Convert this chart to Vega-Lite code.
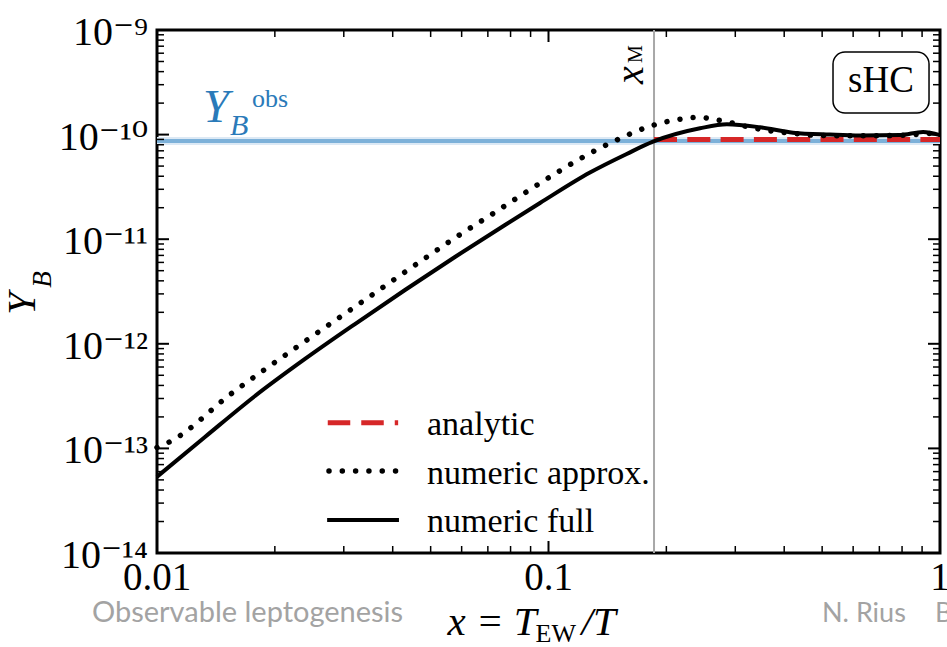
{
  "$schema": "https://vega.github.io/schema/vega-lite/v6.json",
  "width": 783,
  "height": 523,
  "autosize": {"type": "none"},
  "padding": {"left": 157, "top": 30, "right": 7, "bottom": 94},
  "background": "white",
  "config": {
    "view": {"stroke": "black", "strokeWidth": 3},
    "text": {"font": "Liberation Serif", "color": "black"}
  },
  "datasets": {
    "full": [
      {"series": "numeric full", "x": 0.01, "y": 5.36e-14},
      {"series": "numeric full", "x": 0.01326, "y": 1.285e-13},
      {"series": "numeric full", "x": 0.0178, "y": 3.17e-13},
      {"series": "numeric full", "x": 0.02388, "y": 7.16e-13},
      {"series": "numeric full", "x": 0.03204, "y": 1.545e-12},
      {"series": "numeric full", "x": 0.043, "y": 3.27e-12},
      {"series": "numeric full", "x": 0.05768, "y": 6.76e-12},
      {"series": "numeric full", "x": 0.07743, "y": 1.367e-11},
      {"series": "numeric full", "x": 0.09512, "y": 2.219e-11},
      {"series": "numeric full", "x": 0.1276, "y": 4.34e-11},
      {"series": "numeric full", "x": 0.1584, "y": 6.53e-11},
      {"series": "numeric full", "x": 0.1849, "y": 8.55e-11},
      {"series": "numeric full", "x": 0.2438, "y": 1.148e-10},
      {"series": "numeric full", "x": 0.2857, "y": 1.254e-10},
      {"series": "numeric full", "x": 0.3469, "y": 1.175e-10},
      {"series": "numeric full", "x": 0.4212, "y": 1.043e-10},
      {"series": "numeric full", "x": 0.5236, "y": 1.0e-10},
      {"series": "numeric full", "x": 0.6247, "y": 9.8e-11},
      {"series": "numeric full", "x": 0.7903, "y": 9.9e-11},
      {"series": "numeric full", "x": 0.9051, "y": 1.06e-10},
      {"series": "numeric full", "x": 1.0, "y": 9.9e-11}
    ],
    "approx": [
      {"series": "numeric approx.", "x": 0.01, "y": 1.02e-13},
      {"series": "numeric approx.", "x": 0.01079, "y": 1.159e-13},
      {"series": "numeric approx.", "x": 0.01552, "y": 3.363e-13},
      {"series": "numeric approx.", "x": 0.02252, "y": 9.06e-13},
      {"series": "numeric approx.", "x": 0.033, "y": 2.44e-12},
      {"series": "numeric approx.", "x": 0.04836, "y": 6.57e-12},
      {"series": "numeric approx.", "x": 0.0583, "y": 1.057e-11},
      {"series": "numeric approx.", "x": 0.07089, "y": 1.685e-11},
      {"series": "numeric approx.", "x": 0.08607, "y": 2.7e-11},
      {"series": "numeric approx.", "x": 0.1049, "y": 4.32e-11},
      {"series": "numeric approx.", "x": 0.1276, "y": 6.63e-11},
      {"series": "numeric approx.", "x": 0.1462, "y": 8.55e-11},
      {"series": "numeric approx.", "x": 0.1824, "y": 1.208e-10},
      {"series": "numeric approx.", "x": 0.2105, "y": 1.379e-10},
      {"series": "numeric approx.", "x": 0.2438, "y": 1.463e-10},
      {"series": "numeric approx.", "x": 0.2632, "y": 1.4e-10},
      {"series": "numeric approx.", "x": 0.2852, "y": 1.328e-10},
      {"series": "numeric approx.", "x": 0.3084, "y": 1.235e-10},
      {"series": "numeric approx.", "x": 0.3369, "y": 1.148e-10},
      {"series": "numeric approx.", "x": 0.3829, "y": 1.066e-10},
      {"series": "numeric approx.", "x": 0.4212, "y": 1.029e-10},
      {"series": "numeric approx.", "x": 0.4655, "y": 9.91e-11},
      {"series": "numeric approx.", "x": 0.5651, "y": 9.76e-11},
      {"series": "numeric approx.", "x": 0.6893, "y": 9.76e-11},
      {"series": "numeric approx.", "x": 0.8384, "y": 9.91e-11},
      {"series": "numeric approx.", "x": 0.9247, "y": 1.029e-10},
      {"series": "numeric approx.", "x": 1.0, "y": 9.91e-11}
    ],
    "analytic": [
      {"series": "analytic", "x": 0.186, "y": 9.0e-11},
      {"series": "analytic", "x": 1.0, "y": 9.0e-11}
    ],
    "obs": [{"value": 8.69e-11, "lo": 7.96e-11, "hi": 9.49e-11}],
    "xm": [{"xM": 0.186}],
    "xlabels": [
      {"v": 0.01, "label": "0.01"},
      {"v": 0.1, "label": "0.1"},
      {"v": 1, "label": "1"}
    ],
    "ylabels": [
      {"v": 1e-9, "label": "10⁻⁹"},
      {"v": 1e-10, "label": "10⁻¹⁰"},
      {"v": 1e-11, "label": "10⁻¹¹"},
      {"v": 1e-12, "label": "10⁻¹²"},
      {"v": 1e-13, "label": "10⁻¹³"},
      {"v": 1e-14, "label": "10⁻¹⁴"}
    ]
  },
  "layer": [
    {
      "data": {"name": "obs"},
      "mark": {"type": "rect", "color": "#dce9f5"},
      "encoding": {
        "x": {"datum": 0.01, "type": "quantitative", "scale": {"type": "log", "domain": [0.01, 1], "nice": false}, "axis": null},
        "x2": {"datum": 1},
        "y": {"field": "lo", "type": "quantitative", "scale": {"type": "log", "domain": [1e-14, 1e-9], "nice": false}, "axis": null},
        "y2": {"field": "hi"}
      }
    },
    {
      "data": {"name": "obs"},
      "mark": {"type": "rule", "color": "#7db1d9", "strokeWidth": 4},
      "encoding": {
        "y": {"field": "value", "type": "quantitative", "scale": {"type": "log", "domain": [1e-14, 1e-9], "nice": false}, "axis": null}
      }
    },
    {
      "data": {"name": "xm"},
      "mark": {"type": "rule", "color": "#a8a8a8", "strokeWidth": 2},
      "encoding": {
        "x": {"field": "xM", "type": "quantitative", "scale": {"type": "log", "domain": [0.01, 1], "nice": false}, "axis": null}
      }
    },
    {
      "data": {"values": [
        {"tick": 1e-13, "kind": "major", "side": "right"}, {"tick": 1e-12, "kind": "major", "side": "right"},
        {"tick": 1e-11, "kind": "major", "side": "right"}, {"tick": 1e-10, "kind": "major", "side": "right"}
      ]},
      "mark": {"type": "rule", "color": "black", "strokeWidth": 2},
      "encoding": {
        "x": {"datum": 0.9319, "type": "quantitative", "scale": {"type": "log", "domain": [0.01, 1], "nice": false}, "axis": null},
        "x2": {"datum": 1},
        "y": {"field": "tick", "type": "quantitative", "scale": {"type": "log", "domain": [1e-14, 1e-9], "nice": false}, "axis": null}
      }
    },
    {
      "data": {"values": [
        {"tick": 1e-13, "kind": "major", "side": "left"}, {"tick": 1e-12, "kind": "major", "side": "left"},
        {"tick": 1e-11, "kind": "major", "side": "left"}, {"tick": 1e-10, "kind": "major", "side": "left"}
      ]},
      "mark": {"type": "rule", "color": "black", "strokeWidth": 2},
      "encoding": {
        "x": {"datum": 0.01, "type": "quantitative", "scale": {"type": "log", "domain": [0.01, 1], "nice": false}, "axis": null},
        "x2": {"datum": 0.01073},
        "y": {"field": "tick", "type": "quantitative", "scale": {"type": "log", "domain": [1e-14, 1e-9], "nice": false}, "axis": null}
      }
    },
    {
      "data": {"values": [
        {"tick": 2e-14, "kind": "minor", "side": "right"}, {"tick": 3e-14, "kind": "minor", "side": "right"}, {"tick": 4e-14, "kind": "minor", "side": "right"}, {"tick": 5e-14, "kind": "minor", "side": "right"},
        {"tick": 6e-14, "kind": "minor", "side": "right"}, {"tick": 7e-14, "kind": "minor", "side": "right"}, {"tick": 8e-14, "kind": "minor", "side": "right"}, {"tick": 9e-14, "kind": "minor", "side": "right"},
        {"tick": 2e-13, "kind": "minor", "side": "right"}, {"tick": 3e-13, "kind": "minor", "side": "right"}, {"tick": 4e-13, "kind": "minor", "side": "right"}, {"tick": 5e-13, "kind": "minor", "side": "right"},
        {"tick": 6e-13, "kind": "minor", "side": "right"}, {"tick": 7e-13, "kind": "minor", "side": "right"}, {"tick": 8e-13, "kind": "minor", "side": "right"}, {"tick": 9e-13, "kind": "minor", "side": "right"},
        {"tick": 2e-12, "kind": "minor", "side": "right"}, {"tick": 3e-12, "kind": "minor", "side": "right"}, {"tick": 4e-12, "kind": "minor", "side": "right"}, {"tick": 5e-12, "kind": "minor", "side": "right"},
        {"tick": 6e-12, "kind": "minor", "side": "right"}, {"tick": 7e-12, "kind": "minor", "side": "right"}, {"tick": 8e-12, "kind": "minor", "side": "right"}, {"tick": 9e-12, "kind": "minor", "side": "right"},
        {"tick": 2e-11, "kind": "minor", "side": "right"}, {"tick": 3e-11, "kind": "minor", "side": "right"}, {"tick": 4e-11, "kind": "minor", "side": "right"}, {"tick": 5e-11, "kind": "minor", "side": "right"},
        {"tick": 6e-11, "kind": "minor", "side": "right"}, {"tick": 7e-11, "kind": "minor", "side": "right"}, {"tick": 8e-11, "kind": "minor", "side": "right"}, {"tick": 9e-11, "kind": "minor", "side": "right"},
        {"tick": 2e-10, "kind": "minor", "side": "right"}, {"tick": 3e-10, "kind": "minor", "side": "right"}, {"tick": 4e-10, "kind": "minor", "side": "right"}, {"tick": 5e-10, "kind": "minor", "side": "right"},
        {"tick": 6e-10, "kind": "minor", "side": "right"}, {"tick": 7e-10, "kind": "minor", "side": "right"}, {"tick": 8e-10, "kind": "minor", "side": "right"}, {"tick": 9e-10, "kind": "minor", "side": "right"}
      ]},
      "mark": {"type": "rule", "color": "black", "strokeWidth": 1.5},
      "encoding": {
        "x": {"datum": 0.9597, "type": "quantitative", "scale": {"type": "log", "domain": [0.01, 1], "nice": false}, "axis": null},
        "x2": {"datum": 1},
        "y": {"field": "tick", "type": "quantitative", "scale": {"type": "log", "domain": [1e-14, 1e-9], "nice": false}, "axis": null}
      }
    },
    {
      "data": {"values": [
        {"tick": 2e-14, "kind": "minor", "side": "left"}, {"tick": 3e-14, "kind": "minor", "side": "left"}, {"tick": 4e-14, "kind": "minor", "side": "left"}, {"tick": 5e-14, "kind": "minor", "side": "left"},
        {"tick": 6e-14, "kind": "minor", "side": "left"}, {"tick": 7e-14, "kind": "minor", "side": "left"}, {"tick": 8e-14, "kind": "minor", "side": "left"}, {"tick": 9e-14, "kind": "minor", "side": "left"},
        {"tick": 2e-13, "kind": "minor", "side": "left"}, {"tick": 3e-13, "kind": "minor", "side": "left"}, {"tick": 4e-13, "kind": "minor", "side": "left"}, {"tick": 5e-13, "kind": "minor", "side": "left"},
        {"tick": 6e-13, "kind": "minor", "side": "left"}, {"tick": 7e-13, "kind": "minor", "side": "left"}, {"tick": 8e-13, "kind": "minor", "side": "left"}, {"tick": 9e-13, "kind": "minor", "side": "left"},
        {"tick": 2e-12, "kind": "minor", "side": "left"}, {"tick": 3e-12, "kind": "minor", "side": "left"}, {"tick": 4e-12, "kind": "minor", "side": "left"}, {"tick": 5e-12, "kind": "minor", "side": "left"},
        {"tick": 6e-12, "kind": "minor", "side": "left"}, {"tick": 7e-12, "kind": "minor", "side": "left"}, {"tick": 8e-12, "kind": "minor", "side": "left"}, {"tick": 9e-12, "kind": "minor", "side": "left"},
        {"tick": 2e-11, "kind": "minor", "side": "left"}, {"tick": 3e-11, "kind": "minor", "side": "left"}, {"tick": 4e-11, "kind": "minor", "side": "left"}, {"tick": 5e-11, "kind": "minor", "side": "left"},
        {"tick": 6e-11, "kind": "minor", "side": "left"}, {"tick": 7e-11, "kind": "minor", "side": "left"}, {"tick": 8e-11, "kind": "minor", "side": "left"}, {"tick": 9e-11, "kind": "minor", "side": "left"},
        {"tick": 2e-10, "kind": "minor", "side": "left"}, {"tick": 3e-10, "kind": "minor", "side": "left"}, {"tick": 4e-10, "kind": "minor", "side": "left"}, {"tick": 5e-10, "kind": "minor", "side": "left"},
        {"tick": 6e-10, "kind": "minor", "side": "left"}, {"tick": 7e-10, "kind": "minor", "side": "left"}, {"tick": 8e-10, "kind": "minor", "side": "left"}, {"tick": 9e-10, "kind": "minor", "side": "left"}
      ]},
      "mark": {"type": "rule", "color": "black", "strokeWidth": 1.5},
      "encoding": {
        "x": {"datum": 0.01, "type": "quantitative", "scale": {"type": "log", "domain": [0.01, 1], "nice": false}, "axis": null},
        "x2": {"datum": 0.01042},
        "y": {"field": "tick", "type": "quantitative", "scale": {"type": "log", "domain": [1e-14, 1e-9], "nice": false}, "axis": null}
      }
    },
    {
      "data": {"values": [{"tick": 0.1, "kind": "major", "side": "bottom"}]},
      "mark": {"type": "rule", "color": "black", "strokeWidth": 2},
      "encoding": {
        "x": {"field": "tick", "type": "quantitative", "scale": {"type": "log", "domain": [0.01, 1], "nice": false}, "axis": null},
        "y": {"datum": 1e-14, "type": "quantitative", "scale": {"type": "log", "domain": [1e-14, 1e-9], "nice": false}, "axis": null},
        "y2": {"datum": 1.302e-14}
      }
    },
    {
      "data": {"values": [{"tick": 0.1, "kind": "major", "side": "top"}]},
      "mark": {"type": "rule", "color": "black", "strokeWidth": 2},
      "encoding": {
        "x": {"field": "tick", "type": "quantitative", "scale": {"type": "log", "domain": [0.01, 1], "nice": false}, "axis": null},
        "y": {"datum": 7.678e-10, "type": "quantitative", "scale": {"type": "log", "domain": [1e-14, 1e-9], "nice": false}, "axis": null},
        "y2": {"datum": 1e-9}
      }
    },
    {
      "data": {"values": [
        {"tick": 0.02, "kind": "minor", "side": "bottom"}, {"tick": 0.03, "kind": "minor", "side": "bottom"}, {"tick": 0.04, "kind": "minor", "side": "bottom"}, {"tick": 0.05, "kind": "minor", "side": "bottom"},
        {"tick": 0.06, "kind": "minor", "side": "bottom"}, {"tick": 0.07, "kind": "minor", "side": "bottom"}, {"tick": 0.08, "kind": "minor", "side": "bottom"}, {"tick": 0.09, "kind": "minor", "side": "bottom"},
        {"tick": 0.2, "kind": "minor", "side": "bottom"}, {"tick": 0.3, "kind": "minor", "side": "bottom"}, {"tick": 0.4, "kind": "minor", "side": "bottom"}, {"tick": 0.5, "kind": "minor", "side": "bottom"},
        {"tick": 0.6, "kind": "minor", "side": "bottom"}, {"tick": 0.7, "kind": "minor", "side": "bottom"}, {"tick": 0.8, "kind": "minor", "side": "bottom"}, {"tick": 0.9, "kind": "minor", "side": "bottom"}
      ]},
      "mark": {"type": "rule", "color": "black", "strokeWidth": 1.5},
      "encoding": {
        "x": {"field": "tick", "type": "quantitative", "scale": {"type": "log", "domain": [0.01, 1], "nice": false}, "axis": null},
        "y": {"datum": 1e-14, "type": "quantitative", "scale": {"type": "log", "domain": [1e-14, 1e-9], "nice": false}, "axis": null},
        "y2": {"datum": 1.1666e-14}
      }
    },
    {
      "data": {"values": [
        {"tick": 0.02, "kind": "minor", "side": "top"}, {"tick": 0.03, "kind": "minor", "side": "top"}, {"tick": 0.04, "kind": "minor", "side": "top"}, {"tick": 0.05, "kind": "minor", "side": "top"},
        {"tick": 0.06, "kind": "minor", "side": "top"}, {"tick": 0.07, "kind": "minor", "side": "top"}, {"tick": 0.08, "kind": "minor", "side": "top"}, {"tick": 0.09, "kind": "minor", "side": "top"},
        {"tick": 0.2, "kind": "minor", "side": "top"}, {"tick": 0.3, "kind": "minor", "side": "top"}, {"tick": 0.4, "kind": "minor", "side": "top"}, {"tick": 0.5, "kind": "minor", "side": "top"},
        {"tick": 0.6, "kind": "minor", "side": "top"}, {"tick": 0.7, "kind": "minor", "side": "top"}, {"tick": 0.8, "kind": "minor", "side": "top"}, {"tick": 0.9, "kind": "minor", "side": "top"}
      ]},
      "mark": {"type": "rule", "color": "black", "strokeWidth": 1.5},
      "encoding": {
        "x": {"field": "tick", "type": "quantitative", "scale": {"type": "log", "domain": [0.01, 1], "nice": false}, "axis": null},
        "y": {"datum": 8.572e-10, "type": "quantitative", "scale": {"type": "log", "domain": [1e-14, 1e-9], "nice": false}, "axis": null},
        "y2": {"datum": 1e-9}
      }
    },
    {
      "data": {"name": "analytic"},
      "mark": {"type": "line", "color": "#d62728", "strokeWidth": 5, "strokeDash": [23, 10.3]},
      "encoding": {
        "x": {"field": "x", "type": "quantitative", "scale": {"type": "log", "domain": [0.01, 1], "nice": false}, "axis": null},
        "y": {"field": "y", "type": "quantitative", "scale": {"type": "log", "domain": [1e-14, 1e-9], "nice": false}, "axis": null}
      }
    },
    {
      "data": {"name": "approx"},
      "mark": {"type": "line", "color": "black", "strokeWidth": 5.5, "strokeCap": "round", "strokeDash": [0.01, 13.2], "interpolate": "monotone"},
      "encoding": {
        "x": {"field": "x", "type": "quantitative", "scale": {"type": "log", "domain": [0.01, 1], "nice": false}, "axis": null},
        "y": {"field": "y", "type": "quantitative", "scale": {"type": "log", "domain": [1e-14, 1e-9], "nice": false}, "axis": null}
      }
    },
    {
      "data": {"name": "full"},
      "mark": {"type": "line", "color": "black", "strokeWidth": 4, "interpolate": "monotone"},
      "encoding": {
        "x": {
          "field": "x", "type": "quantitative",
          "scale": {"type": "log", "domain": [0.01, 1], "nice": false},
          "axis": {"orient": "bottom", "values": [0.1], "labels": false, "domain": false, "grid": false, "title": null, "ticks": true, "tickSize": -12, "tickWidth": 2, "tickColor": "black", "tickOpacity": 1}
        },
        "y": {
          "field": "y", "type": "quantitative",
          "scale": {"type": "log", "domain": [1e-14, 1e-9], "nice": false},
          "axis": {"orient": "left", "values": [1e-13, 1e-12, 1e-11, 1e-10], "labels": false, "domain": false, "grid": false, "title": null, "ticks": true, "tickSize": -12, "tickWidth": 2, "tickColor": "black", "tickOpacity": 1}
        }
      }
    },
    {
      "data": {"name": "obs"},
      "encoding": {
        "x": {"datum": 0.01, "type": "quantitative", "scale": {"type": "log", "domain": [0.01, 1], "nice": false}, "axis": null},
        "y": {"field": "value", "type": "quantitative", "scale": {"type": "log", "domain": [1e-14, 1e-9], "nice": false}, "axis": null}
      },
      "layer": [
        {"mark": {"type": "text", "text": "Y", "fontStyle": "italic", "fontSize": 47, "color": "#2a7ab9", "align": "left", "baseline": "alphabetic", "dx": 46, "dy": -19}},
        {"mark": {"type": "text", "text": "B", "fontStyle": "italic", "fontSize": 30, "color": "#2a7ab9", "align": "left", "baseline": "alphabetic", "dx": 73, "dy": -6}},
        {"mark": {"type": "text", "text": "obs", "fontSize": 26, "color": "#2a7ab9", "align": "left", "baseline": "alphabetic", "dx": 95, "dy": -34}}
      ]
    },
    {
      "data": {"name": "xm"},
      "encoding": {
        "x": {"field": "xM", "type": "quantitative", "scale": {"type": "log", "domain": [0.01, 1], "nice": false}, "axis": null},
        "y": {"datum": 1e-9, "type": "quantitative", "scale": {"type": "log", "domain": [1e-14, 1e-9], "nice": false}, "axis": null}
      },
      "layer": [
        {"mark": {"type": "text", "text": "x", "fontStyle": "italic", "fontSize": 40, "angle": 270, "align": "left", "baseline": "alphabetic", "dx": -54, "dy": -11}},
        {"mark": {"type": "text", "text": "M", "fontSize": 20, "angle": 270, "align": "left", "baseline": "alphabetic", "dx": -33, "dy": -12}}
      ]
    },
    {
      "data": {"values": [{"tag": "sHC"}]},
      "layer": [
        {
          "mark": {"type": "rect", "fill": "white", "stroke": "black", "strokeWidth": 1.5, "cornerRadius": 12},
          "encoding": {
            "x": {"datum": 0.533, "type": "quantitative", "scale": {"type": "log", "domain": [0.01, 1], "nice": false}, "axis": null},
            "x2": {"datum": 0.9375},
            "y": {"datum": 6.16e-10, "type": "quantitative", "scale": {"type": "log", "domain": [1e-14, 1e-9], "nice": false}, "axis": null},
            "y2": {"datum": 1.609e-10}
          }
        },
        {
          "mark": {"type": "text", "fontSize": 37, "align": "center", "baseline": "alphabetic"},
          "encoding": {
            "x": {"datum": 0.7069, "type": "quantitative", "scale": {"type": "log", "domain": [0.01, 1], "nice": false}, "axis": null},
            "y": {"datum": 2.57e-10, "type": "quantitative", "scale": {"type": "log", "domain": [1e-14, 1e-9], "nice": false}, "axis": null},
            "text": {"field": "tag"}
          }
        }
      ]
    },
    {
      "data": {"values": [{"label": "analytic"}]},
      "layer": [
        {
          "mark": {"type": "rule", "color": "#d62728", "strokeWidth": 5, "strokeDash": [22.5, 11]},
          "encoding": {
            "x": {"datum": 0.0273, "type": "quantitative", "scale": {"type": "log", "domain": [0.01, 1], "nice": false}, "axis": null},
            "x2": {"datum": 0.0413},
            "y": {"datum": 1.76e-13, "type": "quantitative", "scale": {"type": "log", "domain": [1e-14, 1e-9], "nice": false}, "axis": null}
          }
        },
        {
          "mark": {"type": "text", "fontSize": 34, "align": "left", "baseline": "alphabetic"},
          "encoding": {
            "x": {"datum": 0.04894, "type": "quantitative", "scale": {"type": "log", "domain": [0.01, 1], "nice": false}, "axis": null},
            "y": {"datum": 1.342e-13, "type": "quantitative", "scale": {"type": "log", "domain": [1e-14, 1e-9], "nice": false}, "axis": null},
            "text": {"field": "label"}
          }
        }
      ]
    },
    {
      "data": {"values": [{"label": "numeric approx."}]},
      "layer": [
        {
          "mark": {"type": "rule", "color": "black", "strokeWidth": 5.5, "strokeCap": "round", "strokeDash": [0.01, 13.3]},
          "encoding": {
            "x": {"datum": 0.0275, "type": "quantitative", "scale": {"type": "log", "domain": [0.01, 1], "nice": false}, "axis": null},
            "x2": {"datum": 0.0413},
            "y": {"datum": 6.08e-14, "type": "quantitative", "scale": {"type": "log", "domain": [1e-14, 1e-9], "nice": false}, "axis": null}
          }
        },
        {
          "mark": {"type": "text", "fontSize": 34, "align": "left", "baseline": "alphabetic"},
          "encoding": {
            "x": {"datum": 0.04894, "type": "quantitative", "scale": {"type": "log", "domain": [0.01, 1], "nice": false}, "axis": null},
            "y": {"datum": 4.54e-14, "type": "quantitative", "scale": {"type": "log", "domain": [1e-14, 1e-9], "nice": false}, "axis": null},
            "text": {"field": "label"}
          }
        }
      ]
    },
    {
      "data": {"values": [{"label": "numeric full"}]},
      "layer": [
        {
          "mark": {"type": "rule", "color": "black", "strokeWidth": 4},
          "encoding": {
            "x": {"datum": 0.0272, "type": "quantitative", "scale": {"type": "log", "domain": [0.01, 1], "nice": false}, "axis": null},
            "x2": {"datum": 0.0415},
            "y": {"datum": 2.068e-14, "type": "quantitative", "scale": {"type": "log", "domain": [1e-14, 1e-9], "nice": false}, "axis": null}
          }
        },
        {
          "mark": {"type": "text", "fontSize": 34, "align": "left", "baseline": "alphabetic"},
          "encoding": {
            "x": {"datum": 0.04894, "type": "quantitative", "scale": {"type": "log", "domain": [0.01, 1], "nice": false}, "axis": null},
            "y": {"datum": 1.598e-14, "type": "quantitative", "scale": {"type": "log", "domain": [1e-14, 1e-9], "nice": false}, "axis": null},
            "text": {"field": "label"}
          }
        }
      ]
    },
    {
      "data": {"name": "xlabels"},
      "mark": {"type": "text", "fontSize": 39, "align": "center", "baseline": "alphabetic", "dy": 37},
      "encoding": {
        "x": {"field": "v", "type": "quantitative", "scale": {"type": "log", "domain": [0.01, 1], "nice": false}, "axis": null},
        "y": {"datum": 1e-14, "type": "quantitative", "scale": {"type": "log", "domain": [1e-14, 1e-9], "nice": false}, "axis": null},
        "text": {"field": "label"}
      }
    },
    {
      "data": {"name": "ylabels"},
      "mark": {"type": "text", "font": "Liberation Serif, DejaVu Serif", "fontSize": 40, "align": "right", "baseline": "alphabetic", "dx": -9, "dy": 15},
      "encoding": {
        "x": {"datum": 0.01, "type": "quantitative", "scale": {"type": "log", "domain": [0.01, 1], "nice": false}, "axis": null},
        "y": {"field": "v", "type": "quantitative", "scale": {"type": "log", "domain": [1e-14, 1e-9], "nice": false}, "axis": null},
        "text": {"field": "label"}
      }
    },
    {
      "data": {"values": [{"anchor": 0.1}]},
      "encoding": {
        "x": {"field": "anchor", "type": "quantitative", "scale": {"type": "log", "domain": [0.01, 1], "nice": false}, "axis": null},
        "y": {"datum": 1e-14, "type": "quantitative", "scale": {"type": "log", "domain": [1e-14, 1e-9], "nice": false}, "axis": null}
      },
      "layer": [
        {"mark": {"type": "text", "text": "x = T", "fontStyle": "italic", "fontSize": 41, "align": "left", "baseline": "alphabetic", "dx": -101, "dy": 82}},
        {"mark": {"type": "text", "text": "EW", "fontSize": 26, "align": "left", "baseline": "alphabetic", "dx": -13, "dy": 89}},
        {"mark": {"type": "text", "text": "/T", "fontStyle": "italic", "fontSize": 41, "align": "left", "baseline": "alphabetic", "dx": 33, "dy": 82}}
      ]
    },
    {
      "data": {"values": [{"anchor": 1e-12}]},
      "encoding": {
        "x": {"datum": 0.01, "type": "quantitative", "scale": {"type": "log", "domain": [0.01, 1], "nice": false}, "axis": null},
        "y": {"field": "anchor", "type": "quantitative", "scale": {"type": "log", "domain": [1e-14, 1e-9], "nice": false}, "axis": null}
      },
      "layer": [
        {"mark": {"type": "text", "text": "Y", "fontStyle": "italic", "fontSize": 40, "angle": 270, "align": "left", "baseline": "alphabetic", "dx": 29, "dy": -122}},
        {"mark": {"type": "text", "text": "B", "fontStyle": "italic", "fontSize": 27, "angle": 270, "align": "left", "baseline": "alphabetic", "dx": 56, "dy": -106}}
      ]
    },
    {
      "data": {"values": [{"anchor": 0.01}]},
      "encoding": {
        "x": {"field": "anchor", "type": "quantitative", "scale": {"type": "log", "domain": [0.01, 1], "nice": false}, "axis": null},
        "y": {"datum": 1e-14, "type": "quantitative", "scale": {"type": "log", "domain": [1e-14, 1e-9], "nice": false}, "axis": null}
      },
      "layer": [
        {"mark": {"type": "text", "text": "Observable leptogenesis", "font": "Lato", "fontSize": 29, "color": "#a3a3a3", "align": "left", "baseline": "alphabetic", "dx": -65, "dy": 69}},
        {"mark": {"type": "text", "text": "N. Rius", "font": "Lato", "fontSize": 27, "color": "#a3a3a3", "align": "left", "baseline": "alphabetic", "dx": 665, "dy": 69}},
        {"mark": {"type": "text", "text": "B", "font": "Lato", "fontSize": 27, "color": "#a3a3a3", "align": "left", "baseline": "alphabetic", "dx": 778, "dy": 69}}
      ]
    }
  ]
}
